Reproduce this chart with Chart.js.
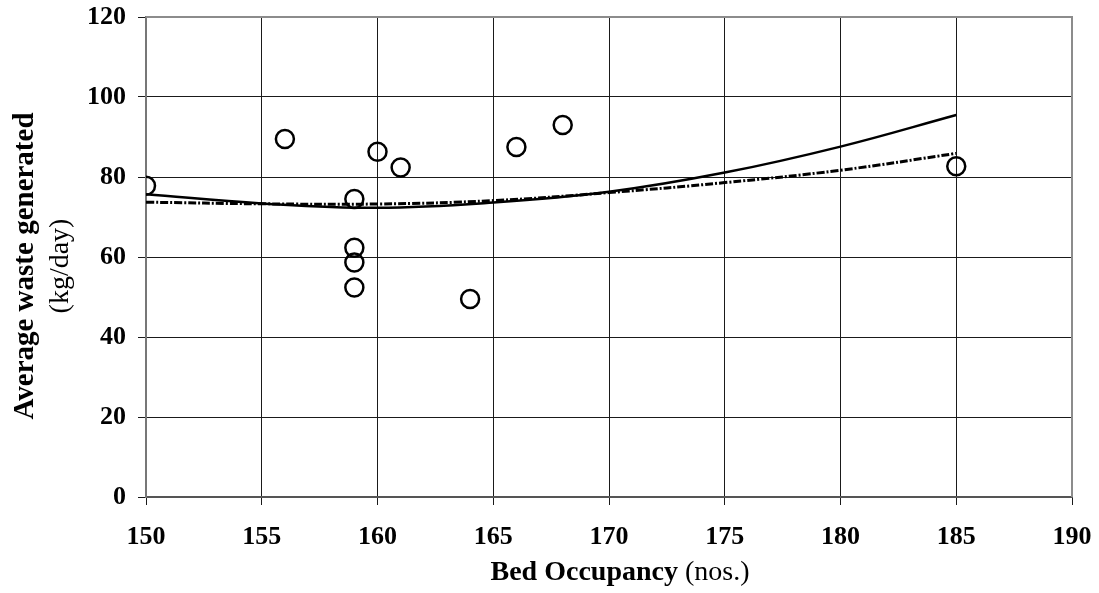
<!DOCTYPE html>
<html>
<head>
<meta charset="utf-8">
<title>Bed occupancy vs waste</title>
<script src="https://cdn.jsdelivr.net/npm/chart.js@4.4.1/dist/chart.umd.min.js"></script>
<style>
  html, body { margin: 0; padding: 0; background: #fff; }
  #wrap { width: 1099px; height: 593px; }
</style>
</head>
<body>
<div id="wrap"><canvas id="waste-chart" width="1099" height="593"></canvas></div>
<script>
// Observed waste per day against bed occupancy
const occupancy = [150, 156, 159, 159, 159, 159, 160, 161, 164, 166, 168, 185]
const waste = [77.8, 89.5, 74.5, 62.3, 58.6, 52.4, 86.3, 82.4, 49.5, 87.5, 93, 82.7]

// Trend lines read at 5-bed steps
const trendX = [150, 155, 160, 165, 170, 175, 180, 185]
const polyTrend = [75.7, 73.4, 72.3, 73.6, 76.3, 81.1, 87.6, 95.5]
const powerTrend = [73.7, 73.3, 73.25, 74.1, 76.1, 78.6, 81.7, 85.9]

// Axis ranges
const xTicks = { min: 150, max: 190, step: 5 }
const yTicks = { min: 0, max: 120, step: 20 }

const SERIF = "'Liberation Serif', 'Times New Roman', serif"

const pairs = (xs, ys) => xs.map((x, i) => ({ x: x, y: ys[i] }))

// Frame and the two-part axis titles (bold name + plain unit)
const titlesPlugin = {
  id: "axisTitles",
  afterDatasetsDraw(chart) {
    const ctx = chart.ctx
    const area = chart.chartArea
    ctx.save()
    ctx.strokeStyle = "#8c8c8c"
    ctx.lineWidth = 2
    ctx.beginPath()
    ctx.moveTo(area.left, area.top)
    ctx.lineTo(area.right, area.top)
    ctx.lineTo(area.right, area.bottom)
    ctx.stroke()
    ctx.restore()
  },
  afterDraw(chart) {
    const ctx = chart.ctx
    ctx.save()
    ctx.fillStyle = "#000"
    ctx.textBaseline = "middle"

    // x title
    ctx.font = "bold 28px " + SERIF
    const part1 = "Bed Occupancy"
    const w1 = ctx.measureText(part1).width
    ctx.font = "28px " + SERIF
    const part2 = " (nos.)"
    const w2 = ctx.measureText(part2).width
    const x0 = 620 - (w1 + w2) / 2
    ctx.textAlign = "left"
    ctx.font = "bold 28px " + SERIF
    ctx.fillText(part1, x0, 573)
    ctx.font = "28px " + SERIF
    ctx.fillText(part2, x0 + w1, 573)

    // y title, two rotated lines
    ctx.translate(0, 266)
    ctx.rotate(-Math.PI / 2)
    ctx.textAlign = "center"
    ctx.font = "bold 29px " + SERIF
    ctx.fillText("Average waste generated", 0, 26)
    ctx.font = "28px " + SERIF
    ctx.fillText("(kg/day)", 0, 61)
    ctx.restore()
  },
}

new Chart(document.getElementById("waste-chart"), {
  type: "scatter",
  data: {
    datasets: [
      {
        type: "line",
        label: "Polynomial",
        data: pairs(trendX, polyTrend),
        borderColor: "#000",
        borderWidth: 2.5,
        tension: 0.4,
        pointRadius: 0,
        fill: false,
      },
      {
        type: "line",
        label: "Power",
        data: pairs(trendX, powerTrend),
        borderColor: "#000",
        borderWidth: 3,
        borderDash: [8, 2, 2, 2],
        tension: 0.4,
        pointRadius: 0,
        fill: false,
      },
      {
        label: "Observed",
        data: pairs(occupancy, waste),
        showLine: false,
        pointRadius: 9,
        pointBorderWidth: 2.5,
        pointBorderColor: "#000",
        pointBackgroundColor: "rgba(0,0,0,0)",
      },
    ],
  },
  options: {
    responsive: false,
    animation: false,
    layout: { padding: { top: 17, right: 27, left: 0, bottom: 0 } },
    plugins: {
      legend: { display: false },
      tooltip: { enabled: false },
    },
    scales: {
      x: {
        type: "linear",
        min: xTicks.min,
        max: xTicks.max,
        ticks: {
          stepSize: xTicks.step,
          color: "#000",
          padding: 17,
          font: { family: SERIF, size: 26, weight: "bold" },
        },
        grid: { color: "#1a1a1a", lineWidth: 1, tickLength: 8, tickColor: "#1a1a1a" },
        border: { color: "#555", width: 2 },
        // keep the plot edge fixed instead of making room for the end labels
        afterFit: (scale) => {
          scale.height = 96
          scale.paddingLeft = 0
          scale.paddingRight = 0
        },
      },
      y: {
        min: yTicks.min,
        max: yTicks.max,
        ticks: {
          stepSize: yTicks.step,
          color: "#000",
          padding: 12,
          font: { family: SERIF, size: 26, weight: "bold" },
        },
        grid: { color: "#1a1a1a", lineWidth: 1, tickLength: 8, tickColor: "#1a1a1a" },
        border: { color: "#777", width: 2 },
        afterFit: (scale) => {
          scale.width = 146
          scale.paddingTop = 0
          scale.paddingBottom = 0
        },
      },
    },
  },
  plugins: [titlesPlugin],
})
</script>
</body>
</html>
